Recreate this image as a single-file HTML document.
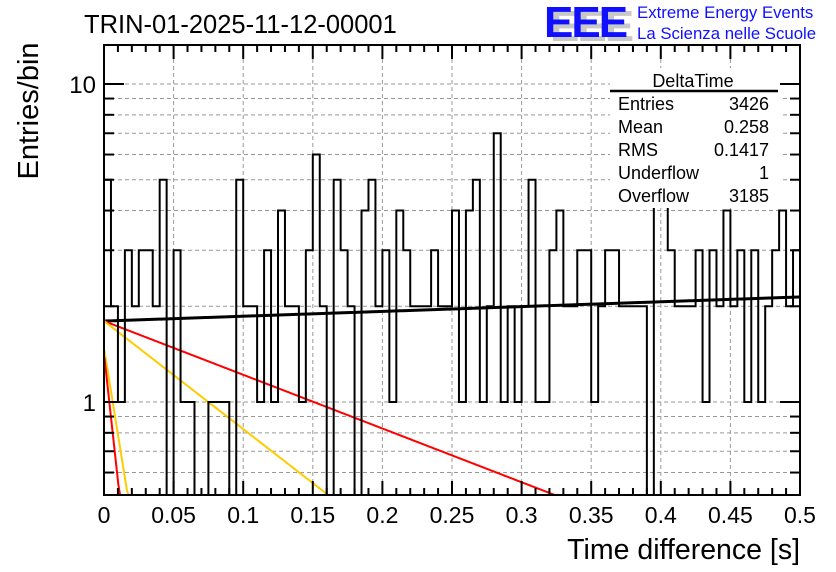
<!DOCTYPE html>
<html><head><meta charset="utf-8"><style>
html,body{margin:0;padding:0;background:#fff;}
svg{display:block;font-family:"Liberation Sans",sans-serif;}
</style></head><body>
<svg id="chart" width="836" height="572" viewBox="0 0 836 572">
<g id="grid"></g>
<g id="fits"></g>
<path id="hist" fill="none" stroke="#000" stroke-width="2"/>
<g id="axes"></g>
<text x="84" y="33" font-size="25.5">TRIN-01-2025-11-12-00001</text>
<text transform="translate(38,111) rotate(-90)" text-anchor="middle" font-size="29">Entries/bin</text>
<text x="800" y="559" text-anchor="end" font-size="28.5">Time difference [s]</text>
<g>
<text x="550" y="41" font-size="44" font-weight="bold" fill="#c8c8c8" letter-spacing="-2">EEE</text>
<text x="544" y="37" font-size="44" font-weight="bold" fill="#1010ff" letter-spacing="-2">EEE</text>
<text x="637" y="18" font-size="16.8" fill="#1010ff">Extreme Energy Events</text>
<text x="637" y="39" font-size="16.8" fill="#1010ff">La Scienza nelle Scuole</text>
</g>
<g font-size="18">
<rect x="610" y="68" width="170" height="140" fill="#fff"/>
<text x="693" y="87" text-anchor="middle">DeltaTime</text>
<line x1="610" y1="91" x2="778" y2="91" stroke="#000" stroke-width="2.5"/>
<text x="618" y="110">Entries</text><text x="769" y="110" text-anchor="end">3426</text>
<text x="618" y="133">Mean</text><text x="769" y="133" text-anchor="end">0.258</text>
<text x="618" y="156">RMS</text><text x="769" y="156" text-anchor="end">0.1417</text>
<text x="618" y="179">Underflow</text><text x="769" y="179" text-anchor="end">1</text>
<text x="618" y="202">Overflow</text><text x="769" y="202" text-anchor="end">3185</text>
</g>
</svg>
<script>
const binCounts = [5,2,1,3,2,3,3,2,5,0,3,1,1,0,0,1,1,1,0,5,2,2,1,3,1,4,2,2,1,3,6,2,0,5,3,2,0,4,5,2,3,1,4,3,2,2,2,3,2,2,4,1,4,5,1,2,7,1,2,1,2,5,1,1,3,4,2,2,3,3,1,2,3,3,2,2,2,2,0,5,5,3,2,2,2,3,1,3,2,4,2,3,1,3,1,2,3,4,2,3];
const xTicks = [0,0.05,0.1,0.15,0.2,0.25,0.3,0.35,0.4,0.45,0.5];
const xTickLabels = ["0","0.05","0.1","0.15","0.2","0.25","0.3","0.35","0.4","0.45","0.5"];
const yTicks = [1,10];
const yTickLabels = ["1","10"];
const yMinor = [0.6,0.7,0.8,0.9,2,3,4,5,6,7,8,9];
const fitAmps = [1.797,1.797,1.797,1.48,1.42];
const fitSlopes = [0.349,-3.89,-7.82,-62.6,-92];
const fitColors = ["#000","#ff0000","#ffcc00","#ffcc00","#ff0000"];
const fitStart = [0,0,0,0.0003,0.0003];

const X0=104,X1=800,Y0=495,Y1=45;
const xMin=0,xMax=0.5;
const yDec=318, y1pos=402;
const yMinV=Math.pow(10,-(Y0-y1pos)/yDec), yMaxV=Math.pow(10,(y1pos-Y1)/yDec);
function xs(v){return X0+(v-xMin)/(xMax-xMin)*(X1-X0);}
function ys(v){if(v<=yMinV)return Y0; if(v>=yMaxV)return Y1; return y1pos-Math.log10(v)*yDec;}
const NS="http://www.w3.org/2000/svg";
function mk(parent,tag,attrs){const e=document.createElementNS(NS,tag);for(const k in attrs)e.setAttribute(k,attrs[k]);parent.appendChild(e);return e;}

const grid=document.getElementById('grid');
xTicks.forEach((t,i)=>{ if(i===0||i===xTicks.length-1)return;
 const l=mk(grid,'line',{x1:xs(t),x2:xs(t),y1:Y1,y2:Y0,stroke:'#999','stroke-dasharray':'4,3','stroke-width':1});
 
 
});
yTicks.concat(yMinor).forEach(v=>{
 const l=mk(grid,'line',{x1:X0,x2:X1,y1:ys(v),y2:ys(v),stroke:'#999','stroke-dasharray':'4,3','stroke-width':1});
 
 
});

const bw=(xMax-xMin)/binCounts.length;
let d='M'+xs(0)+','+ys(binCounts[0]);
binCounts.forEach((c,i)=>{d+=' L'+xs(i*bw)+','+ys(c)+' L'+xs((i+1)*bw)+','+ys(c);});
document.getElementById('hist').setAttribute('d',d);

const fits=document.getElementById('fits');
fitAmps.forEach((A,k)=>{
 let pts=[];
 for(let i=0;i<=400;i++){const t=fitStart[k]+(xMax-fitStart[k])*i/400; const v=A*Math.exp(fitSlopes[k]*t); if(v<yMinV){pts.push(xs(t)+','+Y0);break;} pts.push(xs(t)+','+ys(v));}
 const p=mk(fits,'polyline',{points:pts.join(' '),fill:'none',stroke:fitColors[k],'stroke-width':k===0?3:2});
 
 
});

const ax=document.getElementById('axes');
const fr=mk(ax,'rect',{x:X0,y:Y1,width:X1-X0,height:Y0-Y1,fill:'none',stroke:'#000','stroke-width':2});


for(let i=0;i<=50;i++){const t=i*0.01; const len=(i%5===0)?14:7;
 mk(ax,'line',{x1:xs(t),x2:xs(t),y1:Y0,y2:Y0-len,stroke:'#000','stroke-width':2});
 mk(ax,'line',{x1:xs(t),x2:xs(t),y1:Y1,y2:Y1+len,stroke:'#000','stroke-width':2});
}
xTicks.forEach((t,i)=>{
 const tx=mk(ax,'text',{x:xs(t),y:523,'text-anchor':'middle','font-size':23});
 tx.textContent=xTickLabels[i];
 
 
});
yTicks.concat(yMinor).forEach(v=>{const len=yTicks.includes(v)?20:10;
 mk(ax,'line',{x1:X0,x2:X0+len,y1:ys(v),y2:ys(v),stroke:'#000','stroke-width':2});
 mk(ax,'line',{x1:X1,x2:X1-len,y1:ys(v),y2:ys(v),stroke:'#000','stroke-width':2});
});
yTicks.forEach((v,i)=>{
 const tx=mk(ax,'text',{x:96,y:ys(v)+9,'text-anchor':'end','font-size':24});
 tx.textContent=yTickLabels[i];
 
 
});
</script>
</body></html>
